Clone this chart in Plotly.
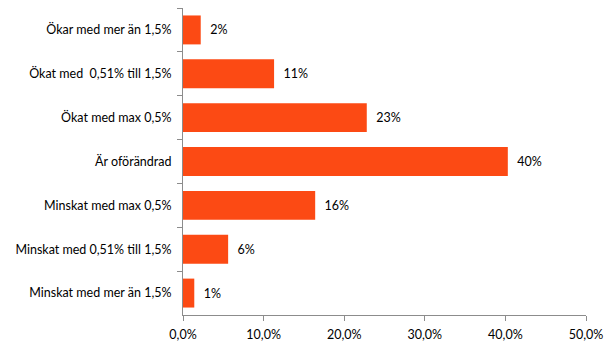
import plotly.graph_objects as go

categories = [
    "Ökar med mer än 1,5%",
    "Ökat med  0,51% till 1,5%",
    "Ökat med max 0,5%",
    "Är oförändrad",
    "Minskat med max 0,5%",
    "Minskat med 0,51% till 1,5%",
    "Minskat med mer än 1,5%",
]
values = [2.2, 11.3, 22.8, 40.3, 16.4, 5.6, 1.4]
x_ticks = [0, 10, 20, 30, 40, 50]
x_tick_labels = ["0,0%", "10,0%", "20,0%", "30,0%", "40,0%", "50,0%"]

font = "Lato"
fsize = 12.5
axis_color = "#8c8c8c"

fig = go.Figure(
    go.Bar(
        x=values,
        y=categories,
        orientation="h",
        marker=dict(color="#FC4A14", line=dict(width=0)),
        width=0.66,
        texttemplate="\u00a0\u00a0%{x:.0f}%",
        textposition="outside",
        textfont=dict(family=font, size=fsize, color="#000000"),
        cliponaxis=False,
        hoverinfo="skip",
    )
)

fig.update_layout(
    width=613,
    height=353,
    margin=dict(l=183, r=27, t=8, b=38),
    paper_bgcolor="white",
    plot_bgcolor="white",
    showlegend=False,
    font=dict(family=font, size=fsize, color="#000000"),
)

fig.update_xaxes(
    range=[0, 50],
    tickvals=x_ticks,
    ticktext=x_tick_labels,
    showgrid=False,
    zeroline=False,
    showline=True,
    linecolor=axis_color,
    linewidth=1,
    ticks="outside",
    ticklen=5,
    tickcolor=axis_color,
    ticklabelstandoff=3,
    tickfont=dict(family=font, size=fsize),
)

fig.update_yaxes(
    categoryorder="array",
    categoryarray=categories,
    autorange="reversed",
    showgrid=False,
    showline=True,
    linecolor=axis_color,
    linewidth=1,
    ticks="outside",
    ticklen=5,
    tickcolor=axis_color,
    tickson="boundaries",
    ticklabelstandoff=8,
    tickfont=dict(family=font, size=fsize),
)

fig.write_html("out.html")
